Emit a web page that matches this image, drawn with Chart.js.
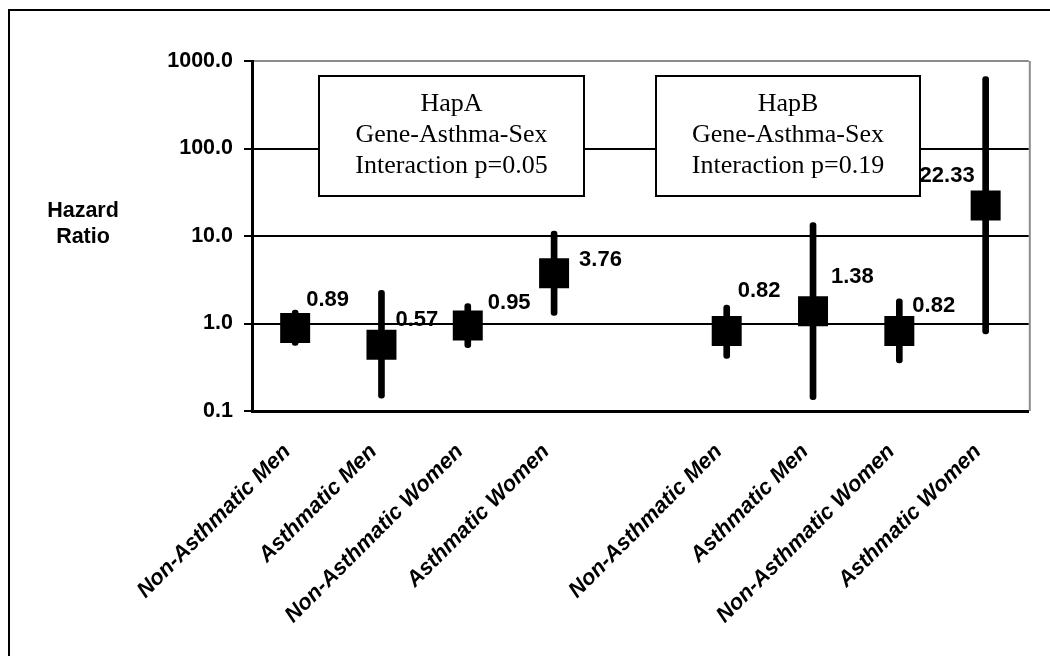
<!DOCTYPE html>
<html lang="en">
<head>
<meta charset="UTF-8">
<title>Hazard Ratio</title>
<script src="https://cdn.jsdelivr.net/npm/chart.js"></script>
<style>
  body { margin: 0; background: #fff; }
  canvas { display: block; }
</style>
</head>
<body>
<canvas id="chart" width="1050" height="656"></canvas>
<script>
// categories (empty slot between the HapA and HapB groups)
const categories = ['Non-Asthmatic Men', 'Asthmatic Men', 'Non-Asthmatic Women', 'Asthmatic Women', '',
                    'Non-Asthmatic Men', 'Asthmatic Men', 'Non-Asthmatic Women', 'Asthmatic Women'];
const hazardRatio = [0.89, 0.57, 0.95, 3.76, null, 0.82, 1.38, 0.82, 22.33];
const ciLower = [0.56, 0.14, 0.53, 1.24, null, 0.40, 0.135, 0.355, 0.76];
const ciUpper = [1.42, 2.40, 1.69, 11.4, null, 1.62, 14.2, 1.92, 662];
const yTicks = [0.1, 1, 10, 100, 1000];
const boxTexts = [
    ['HapA', 'Gene-Asthma-Sex', 'Interaction p=0.05'],
    ['HapB', 'Gene-Asthma-Sex', 'Interaction p=0.19']
];

// where each value label sits relative to its marker: [dx, dy, align]
const labelPlace = [[11, -28, 'left'], [14, -25, 'left'], [20, -23, 'left'], [25, -13, 'left'], null,
                    [11, -40, 'left'], [18, -34, 'left'], [13, -25, 'left'], [-11, -30, 'right']];
// text boxes in pixels: [x, y, w, h]
const boxRects = [[319, 76, 265, 120], [656, 76, 264, 120]];

const SANS = "'Liberation Sans', Arial, sans-serif";
const SERIF = "'Liberation Serif', 'Times New Roman', serif";
const GRAY = '#8c8c8c';

const decorations = {
    id: 'decorations',
    afterDraw(chart) {
        const ctx = chart.ctx;
        const area = chart.chartArea;
        ctx.save();

        // outer frame (top and left only)
        ctx.strokeStyle = '#000';
        ctx.lineWidth = 2;
        ctx.beginPath();
        ctx.moveTo(9, 656);
        ctx.lineTo(9, 10);
        ctx.lineTo(1050, 10);
        ctx.stroke();

        // gray plot border on the right
        ctx.strokeStyle = GRAY;
        ctx.beginPath();
        ctx.moveTo(area.right + 1, area.top);
        ctx.lineTo(area.right + 1, area.bottom);
        ctx.stroke();

        // y axis title
        ctx.fillStyle = '#000';
        ctx.font = 'bold 21.5px ' + SANS;
        ctx.textAlign = 'center';
        ctx.textBaseline = 'middle';
        ctx.fillText('Hazard', 83, 211);
        ctx.fillText('Ratio', 83, 237);

        // text boxes
        boxRects.forEach(function(r, i) {
            ctx.fillStyle = '#fff';
            ctx.fillRect(r[0], r[1], r[2], r[3]);
            ctx.strokeStyle = '#000';
            ctx.lineWidth = 2;
            ctx.strokeRect(r[0], r[1], r[2], r[3]);
            ctx.fillStyle = '#000';
            ctx.font = '26px ' + SERIF;
            ctx.textAlign = 'center';
            boxTexts[i].forEach(function(line, j) {
                ctx.fillText(line, r[0] + r[2] / 2, r[1] + 28 + j * 31);
            });
        });

        // value labels
        const meta = chart.getDatasetMeta(1);
        ctx.font = 'bold 22px ' + SANS;
        ctx.fillStyle = '#000';
        meta.data.forEach(function(pt, i) {
            const v = hazardRatio[i];
            const p = labelPlace[i];
            if (v == null || !p) return;
            ctx.textAlign = p[2];
            ctx.fillText(v.toFixed(2), pt.x + p[0], pt.y + p[1]);
        });

        ctx.restore();
    }
};

const ctx = document.getElementById('chart').getContext('2d');
new Chart(ctx, {
    type: 'bar',
    data: {
        labels: categories,
        datasets: [{
            type: 'bar',
            data: ciLower.map((lo, i) => lo == null ? null : [lo, ciUpper[i]]),
            backgroundColor: '#000',
            barThickness: 6,
            borderRadius: 3,
            borderSkipped: false
        }, {
            type: 'line',
            data: hazardRatio,
            showLine: false,
            pointStyle: 'rect',
            pointRadius: 21.2,
            pointHoverRadius: 21.2,
            pointBackgroundColor: '#000',
            pointBorderWidth: 0
        }]
    },
    options: {
        responsive: false,
        devicePixelRatio: 1,
        animation: false,
        layout: { padding: { top: 61, right: 18, left: 0, bottom: 0 } },
        plugins: { legend: { display: false }, tooltip: { enabled: false } },
        scales: {
            x: {
                offset: true,
                grid: { display: false, drawTicks: false },
                border: { display: true, color: '#000', width: 3 },
                ticks: {
                    autoSkip: false,
                    maxRotation: 45,
                    minRotation: 45,
                    padding: 28,
                    labelOffset: -8,
                    color: '#000',
                    font: { family: SANS, size: 22, weight: 'bold', style: 'italic' }
                },
                afterFit(scale) { scale.height = 245; }
            },
            y: {
                type: 'logarithmic',
                min: 0.1,
                max: 1000,
                afterBuildTicks(scale) { scale.ticks = yTicks.map(v => ({ value: v })); },
                grid: {
                    color: c => (c.tick && c.tick.value === 1000) ? GRAY : '#000',
                    lineWidth: 2,
                    tickLength: 8,
                    tickColor: '#000'
                },
                border: { color: '#000', width: 3 },
                ticks: {
                    autoSkip: false,
                    padding: 11,
                    color: '#000',
                    font: { family: SANS, size: 21.5, weight: 'bold' },
                    callback: v => Number(v).toFixed(1)
                },
                afterFit(scale) { scale.width = 252; }
            }
        }
    },
    plugins: [decorations]
});
</script>
</body>
</html>
